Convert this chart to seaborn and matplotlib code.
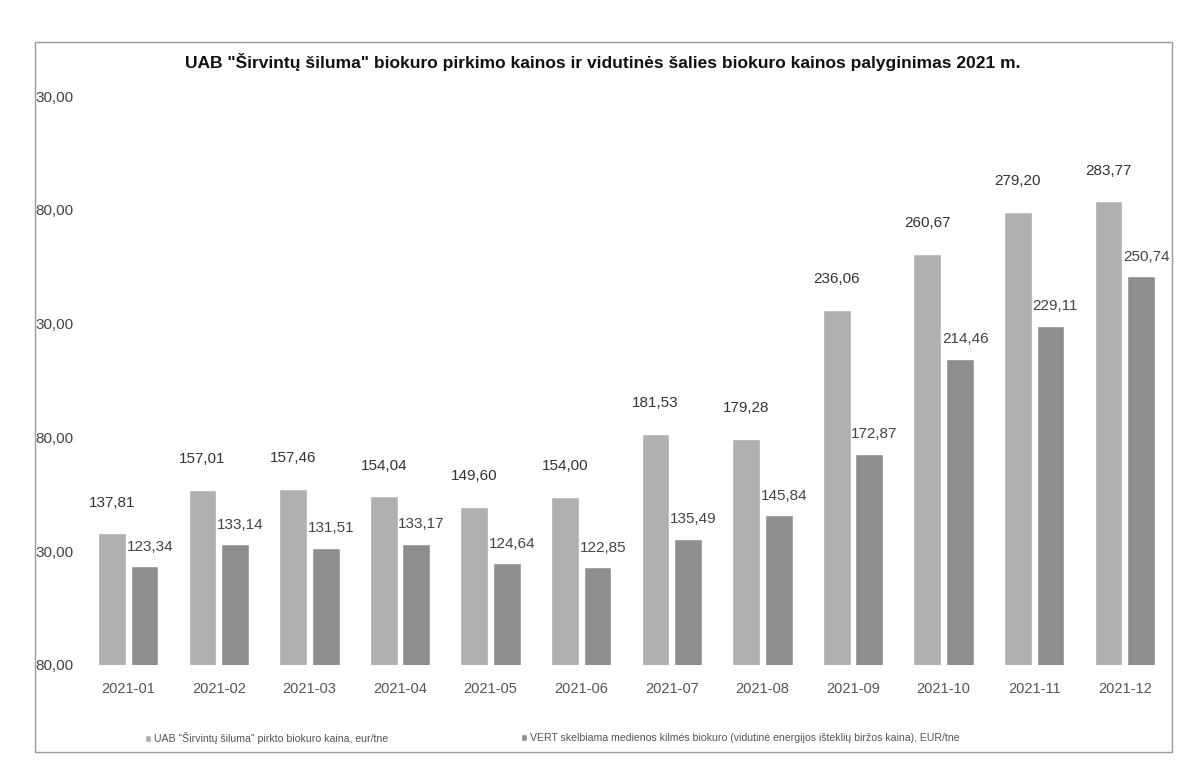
import matplotlib
matplotlib.use("Agg")
import matplotlib.pyplot as plt
import seaborn as sns
import pandas as pd
from matplotlib.patches import Rectangle, Patch

months = ["2021-01", "2021-02", "2021-03", "2021-04", "2021-05", "2021-06",
          "2021-07", "2021-08", "2021-09", "2021-10", "2021-11", "2021-12"]
uab_prices = [137.81, 157.01, 157.46, 154.04, 149.60, 154.00,
              181.53, 179.28, 236.06, 260.67, 279.20, 283.77]
vert_prices = [123.34, 133.14, 131.51, 133.17, 124.64, 122.85,
               135.49, 145.84, 172.87, 214.46, 229.11, 250.74]
series_names = ['UAB "Širvintų šiluma" pirkto biokuro kaina, eur/tne',
                'VERT skelbiama medienos kilmės biokuro (vidutinė energijos išteklių biržos kaina), EUR/tne']
y_ticks = [80, 130, 180, 230, 280, 330]
y_tick_labels = ["80,00", "30,00", "80,00", "30,00", "80,00", "30,00"]
title = 'UAB "Širvintų šiluma" biokuro pirkimo kainos ir vidutinės šalies biokuro kainos palyginimas 2021 m.'

df = pd.DataFrame({
    "month": months * 2,
    "price": uab_prices + vert_prices,
    "series": [series_names[0]] * len(months) + [series_names[1]] * len(months),
})

sns.set_theme(style="white")
plt.rcParams['font.family'] = ['Liberation Sans', 'DejaVu Sans']

W, H = 1197, 779
fig = plt.figure(figsize=(W / 100, H / 100), dpi=100)
fig.patch.set_facecolor("white")

# axes in pixel coordinates
left, right, top, bottom = 83, 1170, 96, 665
ax = fig.add_axes([left / W, 1 - bottom / H, (right - left) / W, (bottom - top) / H])

colors = ["#b0b0b0", "#8e8e8e"]
sns.barplot(data=df, x="month", y="price", hue="series", hue_order=series_names,
            palette=colors, width=0.72, gap=0.15, ax=ax, legend=False,
            saturation=1, bottom=0)

ax.set_ylim(80, 330)
ax.set_xlim(-0.5, len(months) - 0.5)
ax.set_yticks(y_ticks)
ax.set_yticklabels(y_tick_labels, fontsize=11, color="#444444")
for lab in ax.get_yticklabels():
    lab.set_horizontalalignment("left")
ax.tick_params(axis="y", length=0, pad=(left - 35) * 0.72)
ax.tick_params(axis="x", length=0, pad=12, labelsize=10.5, labelcolor="#555555")
ax.set_xlabel("")
ax.set_ylabel("")
for s in ax.spines.values():
    s.set_visible(False)
ax.grid(False)

def fmt(v):
    return f"{v:.2f}".replace(".", ",")

# data labels
for bar, v in zip(ax.containers[0].patches, uab_prices):
    cx = bar.get_x() + bar.get_width() / 2
    ax.annotate(fmt(v), (cx, v), xytext=(0, 17), textcoords="offset points",
                ha="center", va="bottom", fontsize=11, color="#333333")
for bar, v in zip(ax.containers[1].patches, vert_prices):
    lx = bar.get_x()
    ax.annotate(fmt(v), (lx, v), xytext=(-3, 9), textcoords="offset points",
                ha="left", va="bottom", fontsize=11, color="#444444")

# title
fig.text(603 / W, 1 - 62 / H, title, ha="center", va="center", fontsize=12.5,
         fontweight="bold", color="#111111")

# legend entries (two separate one-entry legends positioned like the reference)
legend_x = [145, 521]
for name, col, lx in zip(series_names, colors, legend_x):
    fig.legend(handles=[Patch(facecolor=col, label=name)], loc="center left",
               bbox_to_anchor=(lx / W, 1 - 738 / H), frameon=False,
               fontsize=7.6, handlelength=0.6, handleheight=0.6,
               handletextpad=0.3, borderaxespad=0, borderpad=0,
               labelcolor="#555555")

# outer frame
fig.patches.append(Rectangle((35 / W, 1 - 752 / H), (1172 - 35) / W, (752 - 42) / H,
                             transform=fig.transFigure, fill=False,
                             edgecolor="#999999", linewidth=1.0))

fig.savefig("out.png", dpi=100, facecolor="white")
